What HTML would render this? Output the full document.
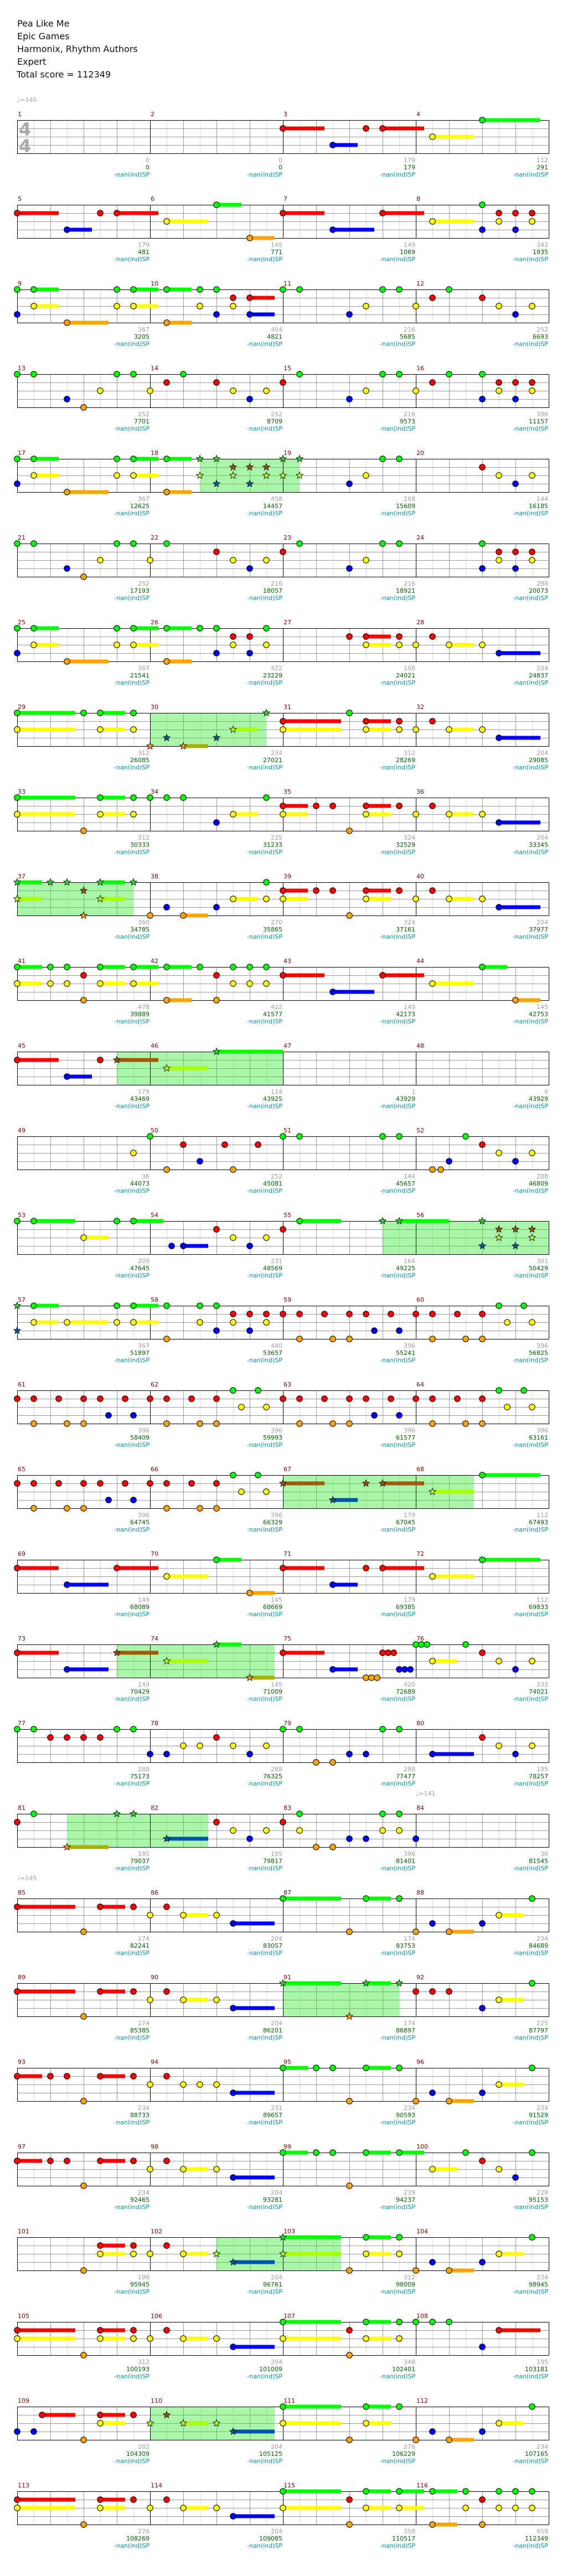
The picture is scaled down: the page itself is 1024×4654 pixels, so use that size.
<!DOCTYPE html>
<html><head><meta charset="utf-8">
<style>
html,body{margin:0;padding:0;background:#fff;}
svg{display:block;}
text{font-family:"DejaVu Sans","Liberation Sans",sans-serif;}
.t{font-size:16px;fill:#111;}
.n{font-size:11px;fill:#8b0000;}
.g{font-size:11px;fill:#a0a0a0;text-anchor:end;}
.s{font-size:11px;fill:#006400;text-anchor:end;}
.c{font-size:11px;fill:#009a9a;text-anchor:end;}
.tp{font-size:11px;fill:#a0a0a0;}
.ts{font-size:32px;fill:#aaa;font-weight:bold;}
</style></head><body>
<svg id="s" width="1024" height="4654" xmlns="http://www.w3.org/2000/svg">
<rect width="1024" height="4654" fill="#fff"/>
<g id="grid"></g>
<g id="notes"></g>
<text class="t" x="31" y="48">Pea Like Me</text>
<text class="t" x="31" y="71">Epic Games</text>
<text class="t" x="31" y="94">Harmonix, Rhythm Authors</text>
<text class="t" x="31" y="117">Expert</text>
<text class="t" x="30" y="140">Total score = 112349</text>
<text class="tp" x="31" y="184">♩=145</text>
<text class="tp" x="751" y="3244">♩=141</text>
<text class="tp" x="31" y="3397">♩=145</text>
<text class="ts" x="34" y="245">4</text>
<text class="ts" x="34" y="275">4</text>
<g transform="translate(0,217)"><text class="n" x="32" y="-7">1</text><text class="n" x="272" y="-7">2</text><text class="n" x="512" y="-7">3</text><text class="n" x="752" y="-7">4</text><text class="g" x="270" y="76">0</text><text class="s" x="270" y="89">0</text><text class="c" x="270" y="102">-nan(ind)SP</text><text class="g" x="510" y="76">0</text><text class="s" x="510" y="89">0</text><text class="c" x="510" y="102">-nan(ind)SP</text><text class="g" x="750" y="76">179</text><text class="s" x="750" y="89">179</text><text class="c" x="750" y="102">-nan(ind)SP</text><text class="g" x="990" y="76">112</text><text class="s" x="990" y="89">291</text><text class="c" x="990" y="102">-nan(ind)SP</text></g>
<g transform="translate(0,370)"><text class="n" x="32" y="-7">5</text><text class="n" x="272" y="-7">6</text><text class="n" x="512" y="-7">7</text><text class="n" x="752" y="-7">8</text><text class="g" x="270" y="76">179</text><text class="s" x="270" y="89">481</text><text class="c" x="270" y="102">-nan(ind)SP</text><text class="g" x="510" y="76">145</text><text class="s" x="510" y="89">771</text><text class="c" x="510" y="102">-nan(ind)SP</text><text class="g" x="750" y="76">149</text><text class="s" x="750" y="89">1069</text><text class="c" x="750" y="102">-nan(ind)SP</text><text class="g" x="990" y="76">343</text><text class="s" x="990" y="89">1935</text><text class="c" x="990" y="102">-nan(ind)SP</text></g>
<g transform="translate(0,523)"><text class="n" x="32" y="-7">9</text><text class="n" x="272" y="-7">10</text><text class="n" x="512" y="-7">11</text><text class="n" x="752" y="-7">12</text><text class="g" x="270" y="76">367</text><text class="s" x="270" y="89">3205</text><text class="c" x="270" y="102">-nan(ind)SP</text><text class="g" x="510" y="76">404</text><text class="s" x="510" y="89">4821</text><text class="c" x="510" y="102">-nan(ind)SP</text><text class="g" x="750" y="76">216</text><text class="s" x="750" y="89">5685</text><text class="c" x="750" y="102">-nan(ind)SP</text><text class="g" x="990" y="76">252</text><text class="s" x="990" y="89">6693</text><text class="c" x="990" y="102">-nan(ind)SP</text></g>
<g transform="translate(0,676)"><text class="n" x="32" y="-7">13</text><text class="n" x="272" y="-7">14</text><text class="n" x="512" y="-7">15</text><text class="n" x="752" y="-7">16</text><text class="g" x="270" y="76">252</text><text class="s" x="270" y="89">7701</text><text class="c" x="270" y="102">-nan(ind)SP</text><text class="g" x="510" y="76">252</text><text class="s" x="510" y="89">8709</text><text class="c" x="510" y="102">-nan(ind)SP</text><text class="g" x="750" y="76">216</text><text class="s" x="750" y="89">9573</text><text class="c" x="750" y="102">-nan(ind)SP</text><text class="g" x="990" y="76">396</text><text class="s" x="990" y="89">11157</text><text class="c" x="990" y="102">-nan(ind)SP</text></g>
<g transform="translate(0,829)"><text class="n" x="32" y="-7">17</text><text class="n" x="272" y="-7">18</text><text class="n" x="512" y="-7">19</text><text class="n" x="752" y="-7">20</text><text class="g" x="270" y="76">367</text><text class="s" x="270" y="89">12625</text><text class="c" x="270" y="102">-nan(ind)SP</text><text class="g" x="510" y="76">458</text><text class="s" x="510" y="89">14457</text><text class="c" x="510" y="102">-nan(ind)SP</text><text class="g" x="750" y="76">288</text><text class="s" x="750" y="89">15609</text><text class="c" x="750" y="102">-nan(ind)SP</text><text class="g" x="990" y="76">144</text><text class="s" x="990" y="89">16185</text><text class="c" x="990" y="102">-nan(ind)SP</text></g>
<g transform="translate(0,982)"><text class="n" x="32" y="-7">21</text><text class="n" x="272" y="-7">22</text><text class="n" x="512" y="-7">23</text><text class="n" x="752" y="-7">24</text><text class="g" x="270" y="76">252</text><text class="s" x="270" y="89">17193</text><text class="c" x="270" y="102">-nan(ind)SP</text><text class="g" x="510" y="76">216</text><text class="s" x="510" y="89">18057</text><text class="c" x="510" y="102">-nan(ind)SP</text><text class="g" x="750" y="76">216</text><text class="s" x="750" y="89">18921</text><text class="c" x="750" y="102">-nan(ind)SP</text><text class="g" x="990" y="76">288</text><text class="s" x="990" y="89">20073</text><text class="c" x="990" y="102">-nan(ind)SP</text></g>
<g transform="translate(0,1135)"><text class="n" x="32" y="-7">25</text><text class="n" x="272" y="-7">26</text><text class="n" x="512" y="-7">27</text><text class="n" x="752" y="-7">28</text><text class="g" x="270" y="76">367</text><text class="s" x="270" y="89">21541</text><text class="c" x="270" y="102">-nan(ind)SP</text><text class="g" x="510" y="76">422</text><text class="s" x="510" y="89">23229</text><text class="c" x="510" y="102">-nan(ind)SP</text><text class="g" x="750" y="76">198</text><text class="s" x="750" y="89">24021</text><text class="c" x="750" y="102">-nan(ind)SP</text><text class="g" x="990" y="76">204</text><text class="s" x="990" y="89">24837</text><text class="c" x="990" y="102">-nan(ind)SP</text></g>
<g transform="translate(0,1288)"><text class="n" x="32" y="-7">29</text><text class="n" x="272" y="-7">30</text><text class="n" x="512" y="-7">31</text><text class="n" x="752" y="-7">32</text><text class="g" x="270" y="76">312</text><text class="s" x="270" y="89">26085</text><text class="c" x="270" y="102">-nan(ind)SP</text><text class="g" x="510" y="76">234</text><text class="s" x="510" y="89">27021</text><text class="c" x="510" y="102">-nan(ind)SP</text><text class="g" x="750" y="76">312</text><text class="s" x="750" y="89">28269</text><text class="c" x="750" y="102">-nan(ind)SP</text><text class="g" x="990" y="76">204</text><text class="s" x="990" y="89">29085</text><text class="c" x="990" y="102">-nan(ind)SP</text></g>
<g transform="translate(0,1441)"><text class="n" x="32" y="-7">33</text><text class="n" x="272" y="-7">34</text><text class="n" x="512" y="-7">35</text><text class="n" x="752" y="-7">36</text><text class="g" x="270" y="76">312</text><text class="s" x="270" y="89">30333</text><text class="c" x="270" y="102">-nan(ind)SP</text><text class="g" x="510" y="76">225</text><text class="s" x="510" y="89">31233</text><text class="c" x="510" y="102">-nan(ind)SP</text><text class="g" x="750" y="76">324</text><text class="s" x="750" y="89">32529</text><text class="c" x="750" y="102">-nan(ind)SP</text><text class="g" x="990" y="76">204</text><text class="s" x="990" y="89">33345</text><text class="c" x="990" y="102">-nan(ind)SP</text></g>
<g transform="translate(0,1594)"><text class="n" x="32" y="-7">37</text><text class="n" x="272" y="-7">38</text><text class="n" x="512" y="-7">39</text><text class="n" x="752" y="-7">40</text><text class="g" x="270" y="76">360</text><text class="s" x="270" y="89">34785</text><text class="c" x="270" y="102">-nan(ind)SP</text><text class="g" x="510" y="76">270</text><text class="s" x="510" y="89">35865</text><text class="c" x="510" y="102">-nan(ind)SP</text><text class="g" x="750" y="76">324</text><text class="s" x="750" y="89">37161</text><text class="c" x="750" y="102">-nan(ind)SP</text><text class="g" x="990" y="76">204</text><text class="s" x="990" y="89">37977</text><text class="c" x="990" y="102">-nan(ind)SP</text></g>
<g transform="translate(0,1747)"><text class="n" x="32" y="-7">41</text><text class="n" x="272" y="-7">42</text><text class="n" x="512" y="-7">43</text><text class="n" x="752" y="-7">44</text><text class="g" x="270" y="76">478</text><text class="s" x="270" y="89">39889</text><text class="c" x="270" y="102">-nan(ind)SP</text><text class="g" x="510" y="76">422</text><text class="s" x="510" y="89">41577</text><text class="c" x="510" y="102">-nan(ind)SP</text><text class="g" x="750" y="76">149</text><text class="s" x="750" y="89">42173</text><text class="c" x="750" y="102">-nan(ind)SP</text><text class="g" x="990" y="76">145</text><text class="s" x="990" y="89">42753</text><text class="c" x="990" y="102">-nan(ind)SP</text></g>
<g transform="translate(0,1900)"><text class="n" x="32" y="-7">45</text><text class="n" x="272" y="-7">46</text><text class="n" x="512" y="-7">47</text><text class="n" x="752" y="-7">48</text><text class="g" x="270" y="76">179</text><text class="s" x="270" y="89">43469</text><text class="c" x="270" y="102">-nan(ind)SP</text><text class="g" x="510" y="76">114</text><text class="s" x="510" y="89">43925</text><text class="c" x="510" y="102">-nan(ind)SP</text><text class="g" x="750" y="76">1</text><text class="s" x="750" y="89">43929</text><text class="c" x="750" y="102">-nan(ind)SP</text><text class="g" x="990" y="76">0</text><text class="s" x="990" y="89">43929</text><text class="c" x="990" y="102">-nan(ind)SP</text></g>
<g transform="translate(0,2053)"><text class="n" x="32" y="-7">49</text><text class="n" x="272" y="-7">50</text><text class="n" x="512" y="-7">51</text><text class="n" x="752" y="-7">52</text><text class="g" x="270" y="76">36</text><text class="s" x="270" y="89">44073</text><text class="c" x="270" y="102">-nan(ind)SP</text><text class="g" x="510" y="76">252</text><text class="s" x="510" y="89">45081</text><text class="c" x="510" y="102">-nan(ind)SP</text><text class="g" x="750" y="76">144</text><text class="s" x="750" y="89">45657</text><text class="c" x="750" y="102">-nan(ind)SP</text><text class="g" x="990" y="76">288</text><text class="s" x="990" y="89">46809</text><text class="c" x="990" y="102">-nan(ind)SP</text></g>
<g transform="translate(0,2206)"><text class="n" x="32" y="-7">53</text><text class="n" x="272" y="-7">54</text><text class="n" x="512" y="-7">55</text><text class="n" x="752" y="-7">56</text><text class="g" x="270" y="76">209</text><text class="s" x="270" y="89">47645</text><text class="c" x="270" y="102">-nan(ind)SP</text><text class="g" x="510" y="76">231</text><text class="s" x="510" y="89">48569</text><text class="c" x="510" y="102">-nan(ind)SP</text><text class="g" x="750" y="76">164</text><text class="s" x="750" y="89">49225</text><text class="c" x="750" y="102">-nan(ind)SP</text><text class="g" x="990" y="76">301</text><text class="s" x="990" y="89">50429</text><text class="c" x="990" y="102">-nan(ind)SP</text></g>
<g transform="translate(0,2359)"><text class="n" x="32" y="-7">57</text><text class="n" x="272" y="-7">58</text><text class="n" x="512" y="-7">59</text><text class="n" x="752" y="-7">60</text><text class="g" x="270" y="76">367</text><text class="s" x="270" y="89">51897</text><text class="c" x="270" y="102">-nan(ind)SP</text><text class="g" x="510" y="76">440</text><text class="s" x="510" y="89">53657</text><text class="c" x="510" y="102">-nan(ind)SP</text><text class="g" x="750" y="76">396</text><text class="s" x="750" y="89">55241</text><text class="c" x="750" y="102">-nan(ind)SP</text><text class="g" x="990" y="76">396</text><text class="s" x="990" y="89">56825</text><text class="c" x="990" y="102">-nan(ind)SP</text></g>
<g transform="translate(0,2512)"><text class="n" x="32" y="-7">61</text><text class="n" x="272" y="-7">62</text><text class="n" x="512" y="-7">63</text><text class="n" x="752" y="-7">64</text><text class="g" x="270" y="76">396</text><text class="s" x="270" y="89">58409</text><text class="c" x="270" y="102">-nan(ind)SP</text><text class="g" x="510" y="76">396</text><text class="s" x="510" y="89">59993</text><text class="c" x="510" y="102">-nan(ind)SP</text><text class="g" x="750" y="76">396</text><text class="s" x="750" y="89">61577</text><text class="c" x="750" y="102">-nan(ind)SP</text><text class="g" x="990" y="76">396</text><text class="s" x="990" y="89">63161</text><text class="c" x="990" y="102">-nan(ind)SP</text></g>
<g transform="translate(0,2665)"><text class="n" x="32" y="-7">65</text><text class="n" x="272" y="-7">66</text><text class="n" x="512" y="-7">67</text><text class="n" x="752" y="-7">68</text><text class="g" x="270" y="76">396</text><text class="s" x="270" y="89">64745</text><text class="c" x="270" y="102">-nan(ind)SP</text><text class="g" x="510" y="76">396</text><text class="s" x="510" y="89">66329</text><text class="c" x="510" y="102">-nan(ind)SP</text><text class="g" x="750" y="76">179</text><text class="s" x="750" y="89">67045</text><text class="c" x="750" y="102">-nan(ind)SP</text><text class="g" x="990" y="76">112</text><text class="s" x="990" y="89">67493</text><text class="c" x="990" y="102">-nan(ind)SP</text></g>
<g transform="translate(0,2818)"><text class="n" x="32" y="-7">69</text><text class="n" x="272" y="-7">70</text><text class="n" x="512" y="-7">71</text><text class="n" x="752" y="-7">72</text><text class="g" x="270" y="76">149</text><text class="s" x="270" y="89">68089</text><text class="c" x="270" y="102">-nan(ind)SP</text><text class="g" x="510" y="76">145</text><text class="s" x="510" y="89">68669</text><text class="c" x="510" y="102">-nan(ind)SP</text><text class="g" x="750" y="76">179</text><text class="s" x="750" y="89">69385</text><text class="c" x="750" y="102">-nan(ind)SP</text><text class="g" x="990" y="76">112</text><text class="s" x="990" y="89">69833</text><text class="c" x="990" y="102">-nan(ind)SP</text></g>
<g transform="translate(0,2971)"><text class="n" x="32" y="-7">73</text><text class="n" x="272" y="-7">74</text><text class="n" x="512" y="-7">75</text><text class="n" x="752" y="-7">76</text><text class="g" x="270" y="76">149</text><text class="s" x="270" y="89">70429</text><text class="c" x="270" y="102">-nan(ind)SP</text><text class="g" x="510" y="76">145</text><text class="s" x="510" y="89">71009</text><text class="c" x="510" y="102">-nan(ind)SP</text><text class="g" x="750" y="76">420</text><text class="s" x="750" y="89">72689</text><text class="c" x="750" y="102">-nan(ind)SP</text><text class="g" x="990" y="76">333</text><text class="s" x="990" y="89">74021</text><text class="c" x="990" y="102">-nan(ind)SP</text></g>
<g transform="translate(0,3124)"><text class="n" x="32" y="-7">77</text><text class="n" x="272" y="-7">78</text><text class="n" x="512" y="-7">79</text><text class="n" x="752" y="-7">80</text><text class="g" x="270" y="76">288</text><text class="s" x="270" y="89">75173</text><text class="c" x="270" y="102">-nan(ind)SP</text><text class="g" x="510" y="76">288</text><text class="s" x="510" y="89">76325</text><text class="c" x="510" y="102">-nan(ind)SP</text><text class="g" x="750" y="76">288</text><text class="s" x="750" y="89">77477</text><text class="c" x="750" y="102">-nan(ind)SP</text><text class="g" x="990" y="76">195</text><text class="s" x="990" y="89">78257</text><text class="c" x="990" y="102">-nan(ind)SP</text></g>
<g transform="translate(0,3277)"><text class="n" x="32" y="-7">81</text><text class="n" x="272" y="-7">82</text><text class="n" x="512" y="-7">83</text><text class="n" x="752" y="-7">84</text><text class="g" x="270" y="76">195</text><text class="s" x="270" y="89">79037</text><text class="c" x="270" y="102">-nan(ind)SP</text><text class="g" x="510" y="76">195</text><text class="s" x="510" y="89">79817</text><text class="c" x="510" y="102">-nan(ind)SP</text><text class="g" x="750" y="76">396</text><text class="s" x="750" y="89">81401</text><text class="c" x="750" y="102">-nan(ind)SP</text><text class="g" x="990" y="76">36</text><text class="s" x="990" y="89">81545</text><text class="c" x="990" y="102">-nan(ind)SP</text></g>
<g transform="translate(0,3430)"><text class="n" x="32" y="-7">85</text><text class="n" x="272" y="-7">86</text><text class="n" x="512" y="-7">87</text><text class="n" x="752" y="-7">88</text><text class="g" x="270" y="76">174</text><text class="s" x="270" y="89">82241</text><text class="c" x="270" y="102">-nan(ind)SP</text><text class="g" x="510" y="76">204</text><text class="s" x="510" y="89">83057</text><text class="c" x="510" y="102">-nan(ind)SP</text><text class="g" x="750" y="76">174</text><text class="s" x="750" y="89">83753</text><text class="c" x="750" y="102">-nan(ind)SP</text><text class="g" x="990" y="76">234</text><text class="s" x="990" y="89">84689</text><text class="c" x="990" y="102">-nan(ind)SP</text></g>
<g transform="translate(0,3583)"><text class="n" x="32" y="-7">89</text><text class="n" x="272" y="-7">90</text><text class="n" x="512" y="-7">91</text><text class="n" x="752" y="-7">92</text><text class="g" x="270" y="76">174</text><text class="s" x="270" y="89">85385</text><text class="c" x="270" y="102">-nan(ind)SP</text><text class="g" x="510" y="76">204</text><text class="s" x="510" y="89">86201</text><text class="c" x="510" y="102">-nan(ind)SP</text><text class="g" x="750" y="76">174</text><text class="s" x="750" y="89">86897</text><text class="c" x="750" y="102">-nan(ind)SP</text><text class="g" x="990" y="76">225</text><text class="s" x="990" y="89">87797</text><text class="c" x="990" y="102">-nan(ind)SP</text></g>
<g transform="translate(0,3736)"><text class="n" x="32" y="-7">93</text><text class="n" x="272" y="-7">94</text><text class="n" x="512" y="-7">95</text><text class="n" x="752" y="-7">96</text><text class="g" x="270" y="76">234</text><text class="s" x="270" y="89">88733</text><text class="c" x="270" y="102">-nan(ind)SP</text><text class="g" x="510" y="76">231</text><text class="s" x="510" y="89">89657</text><text class="c" x="510" y="102">-nan(ind)SP</text><text class="g" x="750" y="76">234</text><text class="s" x="750" y="89">90593</text><text class="c" x="750" y="102">-nan(ind)SP</text><text class="g" x="990" y="76">234</text><text class="s" x="990" y="89">91529</text><text class="c" x="990" y="102">-nan(ind)SP</text></g>
<g transform="translate(0,3889)"><text class="n" x="32" y="-7">97</text><text class="n" x="272" y="-7">98</text><text class="n" x="512" y="-7">99</text><text class="n" x="752" y="-7">100</text><text class="g" x="270" y="76">234</text><text class="s" x="270" y="89">92465</text><text class="c" x="270" y="102">-nan(ind)SP</text><text class="g" x="510" y="76">204</text><text class="s" x="510" y="89">93281</text><text class="c" x="510" y="102">-nan(ind)SP</text><text class="g" x="750" y="76">239</text><text class="s" x="750" y="89">94237</text><text class="c" x="750" y="102">-nan(ind)SP</text><text class="g" x="990" y="76">229</text><text class="s" x="990" y="89">95153</text><text class="c" x="990" y="102">-nan(ind)SP</text></g>
<g transform="translate(0,4042)"><text class="n" x="32" y="-7">101</text><text class="n" x="272" y="-7">102</text><text class="n" x="512" y="-7">103</text><text class="n" x="752" y="-7">104</text><text class="g" x="270" y="76">198</text><text class="s" x="270" y="89">95945</text><text class="c" x="270" y="102">-nan(ind)SP</text><text class="g" x="510" y="76">204</text><text class="s" x="510" y="89">96761</text><text class="c" x="510" y="102">-nan(ind)SP</text><text class="g" x="750" y="76">312</text><text class="s" x="750" y="89">98009</text><text class="c" x="750" y="102">-nan(ind)SP</text><text class="g" x="990" y="76">234</text><text class="s" x="990" y="89">98945</text><text class="c" x="990" y="102">-nan(ind)SP</text></g>
<g transform="translate(0,4195)"><text class="n" x="32" y="-7">105</text><text class="n" x="272" y="-7">106</text><text class="n" x="512" y="-7">107</text><text class="n" x="752" y="-7">108</text><text class="g" x="270" y="76">312</text><text class="s" x="270" y="89">100193</text><text class="c" x="270" y="102">-nan(ind)SP</text><text class="g" x="510" y="76">204</text><text class="s" x="510" y="89">101009</text><text class="c" x="510" y="102">-nan(ind)SP</text><text class="g" x="750" y="76">348</text><text class="s" x="750" y="89">102401</text><text class="c" x="750" y="102">-nan(ind)SP</text><text class="g" x="990" y="76">195</text><text class="s" x="990" y="89">103181</text><text class="c" x="990" y="102">-nan(ind)SP</text></g>
<g transform="translate(0,4348)"><text class="n" x="32" y="-7">109</text><text class="n" x="272" y="-7">110</text><text class="n" x="512" y="-7">111</text><text class="n" x="752" y="-7">112</text><text class="g" x="270" y="76">282</text><text class="s" x="270" y="89">104309</text><text class="c" x="270" y="102">-nan(ind)SP</text><text class="g" x="510" y="76">204</text><text class="s" x="510" y="89">105125</text><text class="c" x="510" y="102">-nan(ind)SP</text><text class="g" x="750" y="76">276</text><text class="s" x="750" y="89">106229</text><text class="c" x="750" y="102">-nan(ind)SP</text><text class="g" x="990" y="76">234</text><text class="s" x="990" y="89">107165</text><text class="c" x="990" y="102">-nan(ind)SP</text></g>
<g transform="translate(0,4501)"><text class="n" x="32" y="-7">113</text><text class="n" x="272" y="-7">114</text><text class="n" x="512" y="-7">115</text><text class="n" x="752" y="-7">116</text><text class="g" x="270" y="76">276</text><text class="s" x="270" y="89">108269</text><text class="c" x="270" y="102">-nan(ind)SP</text><text class="g" x="510" y="76">204</text><text class="s" x="510" y="89">109085</text><text class="c" x="510" y="102">-nan(ind)SP</text><text class="g" x="750" y="76">358</text><text class="s" x="750" y="89">110517</text><text class="c" x="750" y="102">-nan(ind)SP</text><text class="g" x="990" y="76">458</text><text class="s" x="990" y="89">112349</text><text class="c" x="990" y="102">-nan(ind)SP</text></g>
</svg>
<script>
var R=[
"R16-18.5 B19-20.5 R21 R22-24.5 Y25-27.5 G28-31.5",
"R0-2.5 B3-4.5 R5 R6-8.5 Y9-11.5 G12-13.5 O14-15.5 R16-18.5 B19-21.5 R22-24.5 Y25-27.5 G28 B28 R29 Y29 R30 B30 R31 Y31",
"G0 B0 G1-2.5 Y1-2.5 O3-5.5 G6 Y6 G7-8.5 Y7-8.5 G9-10.5 O9-10.5 G11 Y11 G12 B12 R13 Y13 R14-15.5 B14-15.5 G16 G17 B20 Y21 G22 G23 Y24 R25 G26 R28 Y29 B30 Y31",
"G0 G1 B3 O4 Y5 G6 G7 Y8 R9 G10 R12 Y13 B14 Y15 R16 G17 B20 Y21 G22 G23 Y24 R25 G26 G28 B28 R29 Y29 R30 B30 R31 Y31",
"[11-17] B0 G0 G1-2.5 Y1-2.5 O3-5.5 G6 Y6 G7-8.5 Y7-8.5 G9-10.5 O9-10.5 *G11 *Y11 *G12 *B12 *R13 *Y13 *R14 *B14 *R15 *Y15 *G16 *Y16 *G17 *Y17 B20 Y21 G22 G23 R28 Y29 B30 Y31",
"G0 G1 B3 O4 Y5 G6 G7 Y8 G9 R12 Y13 B14 Y15 R16 G17 B20 Y21 G22 G23 G28 B28 R29 Y29 R30 B30 R31 Y31",
"G0 B0 G1-2.5 Y1-2.5 O3-5.5 G6 Y6 G7-8.5 Y7-8.5 G9-10.5 O9-10.5 G11 G12 B12 R13 Y13 R14 B14 G15 Y15 R20 R21-22.5 Y21-22.5 R23 Y23 Y24 R25 Y26-27.5 Y28 B29-31.5",
"[8-15] G0-3.5 Y0-3.5 G4 G5-6.5 Y5-6.5 G7 Y7 *O8 *B9 *O10-11.5 *B12 *Y13-14.5 *G15 R16-19.5 Y16-19.5 G20 R21-22.5 Y21-22.5 R23 Y23 Y24 R25 Y26-27.5 Y28 B29-31.5",
"G0-3.5 Y0-3.5 O4 G5-6.5 Y5-6.5 G7 Y7 G8 G9 G10 B12 Y13-14.5 G15 R16-17.5 Y16-17.5 R18 R19 O20 R21-22.5 Y21-22.5 R23 Y24 R25 Y26-27.5 Y28 B29-31.5",
"[0-7] *G0-1.5 *Y0-1.5 *G2 *G3 *R4 *O4 *G5-6.5 *Y5-6.5 *G7 O8 B9 O10-11.5 B12 Y13-14.5 Y15 G15 R16-17.5 Y16-17.5 R18 R19 O20 R21-22.5 Y21-22.5 R23 Y24 R25 Y26-27.5 Y28 B29-31.5",
"G0-1.5 Y0-1.5 G2 Y2 G3 Y3 R4 O4 G5-6.5 Y5-6.5 G7-8.5 Y7-8.5 G9-10.5 O9-10.5 G11 R12 O12 G13 Y13 G14 Y14 G15 Y15 R16-18.5 B19-21.5 R22-24.5 Y25-27.5 G28-29.5 O30-31.5",
"[6-16] R0-2.5 B3-4.5 R5 *R6-8.5 *Y9-11.5 *G12-16",
"Y7 G8 O9 R10 B11 R12.5 O13 R14.5 G16 G17 G22 G23 O25 O25.5 B26 G27 R28 Y29 B30 Y31",
"[22-32] G0 G1-3.5 Y4-5.5 G6 G7-8.8 B9.3 B10-11.5 R12 Y13 B14 Y15 R16 G17-19.5 *G22 *G23-26 *G28 *B28 *R29 *Y29 *R30 *B30 *R31 *Y31",
"*G0 *B0 G1-2.5 Y1-2.5 Y3-5.5 G6 Y6 G7-8.5 Y7-8.5 G9 O9 G11 Y11 G12 B12 R13 Y13 R14 B14 R15 Y15 R16 R17 O17 R18.5 O19 R20 O20 R21 B21.5 R22.5 B23 R24 R25 O25 R26.5 O27 R28 O28 G29 Y29.5 G30.5 Y31",
"R0 R1 O1 R2.5 O3 R4 O4 R5 B5.5 R6.5 B7 R8 R9 O9 R10.5 O11 R12 O12 G13 Y13.5 G14.5 Y15 R16 R17 O17 R18.5 O19 R20 O20 R21 B21.5 R22.5 B23 R24 R25 O25 R26.5 O27 R28 O28 G29 Y29.5 G30.5 Y31",
"[16-27.5] R0 R1 O1 R2.5 O3 R4 O4 R5 B5.5 R6.5 B7 R8 R9 O9 R10.5 O11 R12 O12 G13 Y13.5 G14.5 Y15 *R16-18.5 *B19-20.5 *R21 *R22-24.5 *Y25-27.5 G28-31.5",
"R0-2.5 B3-5.5 R6-8.5 Y9-11.5 G12-13.5 O14-15.5 R16-18.5 B19-20.5 R21 R22-24.5 Y25-27.5 G28-31.5",
"[6-15.5] R0-2.5 B3-5.5 *R6-8.5 *Y9-11.5 *G12-13.5 *O14-15.5 R16-18.5 B19-20.5 O21 O21.33 O21.67 R22 R22.33 R22.67 B23 B23.33 B23.67 G24 G24.33 G24.67 Y25-26.5 G27 R28 Y29 B30 Y31",
"G0 G1 R2 R3 R4 R5 G6 G7 B8 B9 Y10 Y11 R12 Y13 B14 Y15 G16 G17 O18 O19 B20 B21 G22 G23 B25-27.5 R28 Y29 B30 Y31",
"[3-11.5] R0 G1 *O3-5.5 *G6 *G7 *B9-11.5 R12 Y13 B14 Y15 R16 G17 Y17 O18 O19 B20 B21 G22 Y22 G23 Y23 B24",
"R0-3.5 O4 R5-6.5 R7 Y8 R9 Y10-11.5 Y12 B13-15.5 G16-19.5 O20 G21-22.5 G23 O24 B25 O26-27.5 B28 Y29-30.5 G31",
"[16-23] R0-3.5 O4 R5-6.5 R7 Y8 R9 Y10-11.5 Y12 B13-15.5 *G16-19.5 *O20 *G21-22.5 *G23 R24 R25 R26 B28 Y29-30.5 G31",
"R0-1.5 R2 R3 O4 R5-6.5 R7 Y8 R9 Y10 Y11 Y12 B13-15.5 G16-17.5 G18 G19 O20 G21-22.5 G23 O24 B25 O26-27.5 B28 Y29-30.5 G31",
"R0-1.5 R2 R3 O4 R5-6.5 R7 Y8 R9 Y10-11.5 Y12 B13-15.5 G16-17.5 G18 G19 O20 G21-22.5 G23-24.5 Y25-26.5 G27 R28 Y29 B30 G31",
"[12-19.5] O4 R5-6.5 Y5-6.5 R7 Y7 Y8 R9 Y10-11.5 *Y12 *B13-15.5 *G16-19.5 *Y16-19.5 O20 G21-22.5 Y21-22.5 G23 Y23 O24 B25 O26-27.5 B28 Y29-30.5 G31",
"R0-3.5 Y0-3.5 O4 R5-6.5 Y5-6.5 R7 Y7 Y8 R9 Y10-11.5 Y12 B13-15.5 G16-19.5 Y16-19.5 R20 O20 G21-22.5 Y21-22.5 G23 Y23 G24 G25 G26 B28 R29-31.5",
"[8-15.5] B0 B1 R1.5-3.5 O4 R5-6.5 Y5-6.5 R7 *Y8 *R9 *Y10-11.5 *Y12 *B13-15.5 G16-19.5 Y16-19.5 O20 G21-22.5 Y21-22.5 G23 O24 B25 O26-27.5 B28 Y29-30.5 G31",
"R0-3.5 Y0-3.5 O4 R5-6.5 Y5-6.5 R7 Y8 R9 Y10-11.5 Y12 B13-15.5 G16-19.5 Y16-19.5 R20 O20 G21-22.5 Y21-22.5 G23-24.5 Y23-24.5 G25-26.5 O25-26.5 G27 Y27 R28 O28 G29 Y29 G30 Y30 G31 Y31"
];
var NS="http://www.w3.org/2000/svg";
var grid=document.getElementById("grid"),notes=document.getElementById("notes");
function el(p,t,a){var e=document.createElementNS(NS,t);for(var k in a)e.setAttribute(k,a[k]);p.appendChild(e);return e;}
var LY={G:0,R:15,Y:30,B:45,O:60};
var C={G:"#00ff00",R:"#ff0000",Y:"#ffff00",B:"#0000ff",O:"#ffa500"};
var SC={G:"#00ff00",R:"#a05a0a",Y:"#aaff00",B:"#0055aa",O:"#aab000"};
var STC={G:"#22dd22",R:"#a0520a",Y:"#bbff22",B:"#005a9a",O:"#ff9900"};
function X(p){return 31+p*30;}
function star(cx,cy,f){var pts=[];for(var i=0;i<10;i++){var r=i%2?2.8:6.5;var a=-Math.PI/2+i*Math.PI/5;pts.push((cx+r*Math.cos(a)).toFixed(1)+","+(cy+r*Math.sin(a)).toFixed(1));}
el(notes,"polygon",{points:pts.join(" "),fill:f,stroke:"#000","stroke-width":"0.8"});}
for(var r=0;r<R.length;r++){
 var T=217+153*r;
 el(grid,"rect",{x:31,y:T,width:960,height:60,fill:"#fff"});
 for(var k=1;k<32;k++){var x=X(k)+0.5;var col=(k%8==0)?"#000":(k%2==0?"#999":"#ddd");
  if(k%2==1) el(grid,"line",{x1:x,y1:T,x2:x,y2:T+60,stroke:col,"stroke-width":1});}
 for(var k=1;k<32;k++){if(k%2==0&&k%8!=0){var x=X(k)+0.5;el(grid,"line",{x1:x,y1:T,x2:x,y2:T+60,stroke:"#999","stroke-width":1});}}
 for(var j=1;j<4;j++){el(grid,"line",{x1:31,y1:T+15*j+0.5,x2:991,y2:T+15*j+0.5,stroke:"#999","stroke-width":1});}
 var toks=R[r].split(" ");
 toks.forEach(function(t){if(t[0]=="["){var ab=t.slice(1,-1).split("-");var a=+ab[0],b=+ab[1];
   el(grid,"rect",{x:X(a),y:T,width:(b-a)*30,height:60,fill:"rgba(40,230,40,0.4)"});}});
 for(var k=8;k<32;k+=8){var x=X(k)+0.5;el(grid,"line",{x1:x,y1:T,x2:x,y2:T+60,stroke:"#000","stroke-width":1});}
 el(grid,"rect",{x:31.5,y:T+0.5,width:960,height:60,fill:"none",stroke:"#000","stroke-width":1});
 var ns=[];
 toks.forEach(function(t){if(t[0]=="[")return;var s=false;if(t[0]=="*"){s=true;t=t.slice(1);}
  var l=t[0];var pr=t.slice(1).split("-");ns.push({l:l,s:s,p:+pr[0],e:pr.length>1?+pr[1]:null});});
 ns.forEach(function(n){if(n.e!==null){el(notes,"rect",{x:X(n.p),y:T+LY[n.l]-3.5,width:(n.e-n.p)*30,height:7,fill:n.s?SC[n.l]:C[n.l]});}});
 ns.forEach(function(n){var cx=X(n.p),cy=T+LY[n.l];
  if(n.s) star(cx,cy,STC[n.l]); else el(notes,"circle",{cx:cx,cy:cy,r:5.3,fill:C[n.l],stroke:"#000","stroke-width":1});});
}
</script>
</body></html>
